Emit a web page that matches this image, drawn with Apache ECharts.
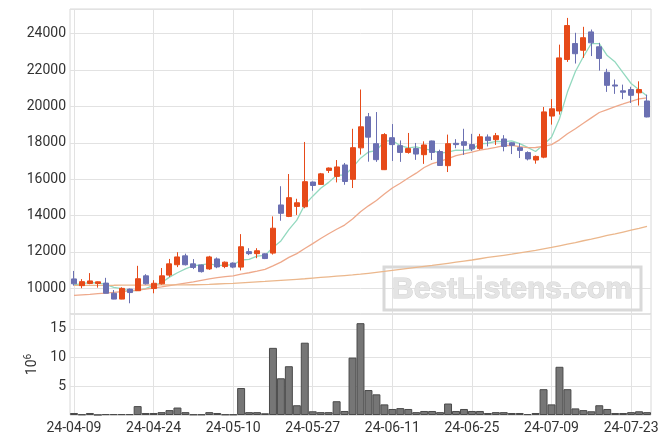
<!DOCTYPE html>
<html><head><meta charset="utf-8">
<script src="https://cdn.jsdelivr.net/npm/echarts@6/dist/echarts.min.js"></script>
<style>html,body{margin:0;padding:0;background:#fff}#c{width:671px;height:444px}</style>
</head><body><div id="c"></div>
<script>
const dates = ['24-04-09','24-04-11','24-04-12','24-04-15','24-04-16','24-04-17','24-04-18','24-04-19','24-04-22','24-04-23','24-04-24','24-04-25','24-04-26','24-04-29','24-04-30',
'24-05-02','24-05-03','24-05-07','24-05-08','24-05-09','24-05-10','24-05-13','24-05-14','24-05-16','24-05-17','24-05-20','24-05-21','24-05-22','24-05-23','24-05-24','24-05-27','24-05-28','24-05-29','24-05-30','24-05-31',
'24-06-03','24-06-04','24-06-05','24-06-07','24-06-10','24-06-11','24-06-12','24-06-13','24-06-14','24-06-17','24-06-18','24-06-19','24-06-20','24-06-21','24-06-24','24-06-25','24-06-26','24-06-27','24-06-28',
'24-07-01','24-07-02','24-07-03','24-07-04','24-07-05','24-07-08','24-07-09','24-07-10','24-07-11','24-07-12','24-07-15','24-07-16','24-07-17','24-07-18','24-07-19','24-07-22','24-07-23','24-07-24','24-07-25'];

const opens  = [10510,10140,10260,10260,10280,9720,9400,9950,9860,10680,9980,10240,10720,11290,11780,11340,11280,11060,11610,11190,11380,11160,12010,11900,11890,11930,14580,13950,14500,14480,15840,15710,16480,16150,16780,15990,17720,19430,17950,16520,18280,17840,17470,17680,17345,18100,17520,16740,17970,18060,17900,17680,18320,18170,18210,18000,17730,17460,17050,17210,19470,19750,22580,23460,23090,24100,23280,21880,21180,20860,20930,20750,20300];
const closes = [10240,10360,10400,10350,9720,9400,9990,9760,10520,10240,10270,10680,11340,11720,11290,11140,10910,11720,11170,11430,11160,12280,11900,12060,11630,13300,14120,14980,14700,15860,15650,16290,16610,16670,15870,17730,18880,18310,17070,18450,17900,17470,17680,17380,17880,17470,16750,17950,17900,17860,17660,18330,18120,18390,17800,17860,17580,17110,17250,19700,19870,22670,24450,22900,23780,23500,22640,21160,21120,20780,20610,20930,19420];
const lows   = [10140,10000,10220,10030,9720,9390,9390,9170,9850,10200,9720,10200,10620,11160,11250,11050,10860,11010,11100,11100,11100,10980,11820,11650,11600,11850,13710,13910,14030,14400,15360,15690,16340,15820,15690,15510,17350,16960,16950,16500,17000,16950,17400,17060,16840,17050,16740,16390,17700,17330,17540,17620,17800,17880,17530,17380,17160,17030,16850,17150,19000,19550,22450,22360,22670,22770,21970,20800,20690,20400,20190,20050,19400];
const highs  = [10950,10500,10830,10370,10570,9900,10050,9980,11230,10770,10440,11110,11610,11980,11900,11600,11300,11780,11690,11470,11420,12975,12200,12200,11920,13950,15610,16280,14920,18045,15870,16340,16640,17050,16890,18770,20930,19640,19690,18530,19030,18130,18540,17990,18080,18120,17620,18450,18200,18770,18490,18490,18460,18540,18420,18030,17980,17530,17300,19970,20400,23400,24870,24050,24380,24230,23500,22070,21480,21200,21080,21380,20650];

// volume, in millions
const volumes = [0.35,0.1,0.35,0.03,0.15,0.15,0.15,0.15,1.55,0.35,0.35,0.5,0.85,1.3,0.5,0.1,0.1,0.5,0.35,0.1,0.1,4.7,0.5,0.5,0.3,11.7,6.4,8.5,1.7,12.6,0.65,0.5,0.5,2.4,0.7,10.0,16.0,4.35,3.6,1.85,1.05,1.2,1.05,0.5,0.7,0.7,0.5,2.0,0.7,1.05,0.7,0.7,0.35,0.5,0.5,0.35,0.35,0.15,0.35,4.5,1.85,8.4,4.5,1.15,0.85,0.65,1.7,1.05,0.35,0.35,0.5,0.65,0.5];

const ma5 = [10180,10250,10310,10290,10214,10046,9972,9844,9878,9982,10156,10294,10610,10850,11060,11234,11280,11356,11246,11274,11278,11552,11588,11766,11806,12234,12602,13218,13746,14592,15062,15496,15822,16216,16218,16634,17152,17492,17572,18088,18122,17840,17714,17776,17662,17576,17432,17486,17590,17586,17624,17940,17974,18072,18060,18100,17950,17748,17520,17900,18302,19320,20788,21918,22734,23460,23454,22796,22440,21840,21262,20920,20572];
const ma20 = [9600,9630,9660,9700,9730,9770,9810,9850,9900,9950,10010,10070,10140,10210,10280,10350,10430,10510,10580,10632,10679,10775,10850,10935,11031,11226,11432,11693,11902,12183,12452,12733,12996,13244,13473,13802,14201,14530,14825,15176,15513,15773,16062,16328,16640,16849,16980,17129,17289,17389,17489,17591,17667,17753,17849,17856,17791,17731,17740,17802,17901,18161,18499,18775,19070,19372,19666,19827,19988,20134,20281,20411,20476];
const ma120 = [10150,10152,10155,10157,10160,10162,10165,10167,10170,10172,10175,10178,10180,10183,10186,10189,10192,10210,10230,10250,10270,10295,10320,10345,10370,10400,10430,10460,10490,10520,10555,10590,10625,10660,10695,10730,10770,10820,10870,10920,10975,11030,11085,11140,11195,11250,11310,11370,11430,11490,11550,11620,11690,11750,11810,11870,11940,12010,12080,12160,12240,12330,12420,12510,12610,12700,12800,12900,12990,13090,13190,13290,13400];

const priceMin = 8580, priceMax = 25360, priceStep = 2000;
const volMax = 17.6, volStep = 5;
const watermark = 'BestListens.com';

const candleData = opens.map((o, i) => [o, closes[i], lows[i], highs[i]]);

const UP = '#e64a19', DOWN = '#6b70b2';
const gridLine = '#e2e2e2';
const labelStyle = { color: '#333', fontSize: 14, fontFamily: 'Roboto' };

const chart = echarts.init(document.getElementById('c'), null, { renderer: 'canvas' });
chart.setOption({
  animation: false,
  backgroundColor: '#fff',
  grid: [
    { left: 70, right: 20, top: 9, height: 305, show: true, borderColor: '#d8d8d8', borderWidth: 1 },
    { left: 70, right: 20, top: 314, height: 101, show: true, borderColor: '#d8d8d8', borderWidth: 1 }
  ],
  xAxis: [
    { type: 'category', gridIndex: 0, data: dates, boundaryGap: true,
      axisLine: { show: false }, axisTick: { show: false }, axisLabel: { show: false },
      splitLine: { show: true, interval: 9, alignWithLabel: true, lineStyle: { color: gridLine, width: 1 } } },
    { type: 'category', gridIndex: 1, data: dates, boundaryGap: true,
      axisLine: { show: false }, axisTick: { show: false },
      axisLabel: Object.assign({ interval: 9, margin: 6 }, labelStyle),
      splitLine: { show: true, interval: 9, alignWithLabel: true, lineStyle: { color: gridLine, width: 1 } } }
  ],
  yAxis: [
    { type: 'value', gridIndex: 0, min: priceMin, max: priceMax, splitNumber: 8,
      minInterval: priceStep, maxInterval: priceStep,
      axisLine: { show: false }, axisTick: { show: false },
      axisLabel: Object.assign({ margin: 4, showMinLabel: false, showMaxLabel: false, formatter: v => String(v) }, labelStyle),
      splitLine: { show: true, lineStyle: { color: gridLine, width: 1 } } },
    { type: 'value', gridIndex: 1, min: 0, max: volMax, splitNumber: 3,
      minInterval: volStep, maxInterval: volStep,
      axisLine: { show: false }, axisTick: { show: false },
      axisLabel: Object.assign({ margin: 4, showMinLabel: false, showMaxLabel: false, formatter: v => String(v) }, labelStyle),
      splitLine: { show: true, lineStyle: { color: gridLine, width: 1 } },
      name: '10{sup|6}', nameLocation: 'middle', nameGap: 23, nameRotate: 90,
      nameTextStyle: { color: '#333', fontSize: 14, fontFamily: 'Roboto',
        rich: { sup: { fontSize: 10, fontFamily: 'Roboto', color: '#333', padding: [0, 0, 8, 0] } } } }
  ],
  graphic: [
    { type: 'rect', silent: true, z: 1, shape: { x: 384, y: 267, width: 257, height: 43 },
      style: { fill: 'rgba(255,255,255,0)', stroke: '#d9d9d9', lineWidth: 3 } },
    { type: 'text', silent: true, z: 1, x: 512, y: 290,
      style: { text: watermark, fill: '#e4e4e4', stroke: '#d2d2d2', lineWidth: 1,
        font: 'bold 30px "Liberation Sans", Arial, sans-serif', textAlign: 'center', textVerticalAlign: 'middle' } }
  ],
  series: [
    { type: 'candlestick', xAxisIndex: 0, yAxisIndex: 0, data: candleData, barWidth: 5.5, z: 5,
      itemStyle: { color: UP, color0: DOWN, borderColor: UP, borderColor0: DOWN, borderWidth: 1 } },
    { type: 'line', xAxisIndex: 0, yAxisIndex: 0, data: ma5, symbol: 'none', z: 4,
      lineStyle: { color: '#93d9bf', width: 1.3 } },
    { type: 'line', xAxisIndex: 0, yAxisIndex: 0, data: ma20, symbol: 'none', z: 4,
      lineStyle: { color: '#eea98b', width: 1.3 } },
    { type: 'line', xAxisIndex: 0, yAxisIndex: 0, data: ma120, symbol: 'none', z: 4,
      lineStyle: { color: '#ebb78c', width: 1.3 } },
    { type: 'bar', xAxisIndex: 1, yAxisIndex: 1, data: volumes, barWidth: '100%', barCategoryGap: '0%',
      itemStyle: { color: '#767676', borderColor: '#4a4a4a', borderWidth: 1 } }
  ]
});
</script></body></html>
